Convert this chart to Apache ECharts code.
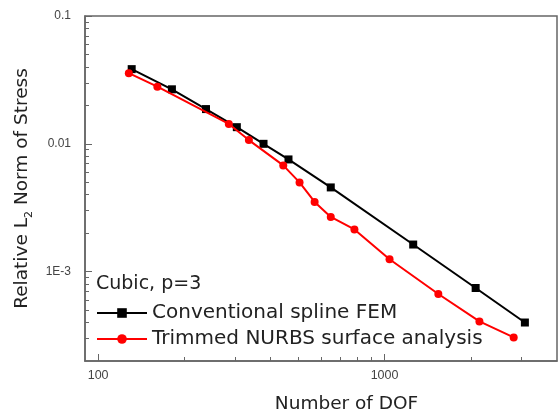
<!DOCTYPE html>
<html>
<head>
<meta charset="utf-8">
<script src="https://cdn.jsdelivr.net/npm/echarts@6/dist/echarts.min.js"></script>
<style>
  html, body { margin: 0; padding: 0; background: #fff; }
  #chart-container { width: 558px; height: 418px; }
</style>
</head>
<body>
<div id="chart-container"></div>
<script>
// conventional spline FEM (black squares)
const splineDof = [131, 181, 238, 305, 378, 462, 649, 1259, 2080, 3090];
const splineErr = [0.0384, 0.0267, 0.0187, 0.0135, 0.0100, 0.00755, 0.00456, 0.00163, 0.000745, 0.000400];

// trimmed NURBS surface analysis (red circles)
const nurbsDof = [128, 161, 286, 336, 443, 505, 570, 649, 785, 1041, 1541, 2144, 2824];
const nurbsErr = [0.0357, 0.0280, 0.0143, 0.0107, 0.00678, 0.00499, 0.00351, 0.00268, 0.00214, 0.00125, 0.000669, 0.000408, 0.000306];

const xMajor = [100, 1000];
const xMinor = [200, 300, 400, 500, 600, 700, 800, 900, 2000, 3000];
const yMajor = [0.001, 0.01, 0.1];
const yMinor = [0.0003, 0.0004, 0.0005, 0.0006, 0.0007, 0.0008, 0.0009,
  0.002, 0.003, 0.004, 0.005, 0.006, 0.007, 0.008, 0.009,
  0.02, 0.03, 0.04, 0.05, 0.06, 0.07, 0.08, 0.09];

const font = 'Liberation Sans, Arial, sans-serif';
const wideFont = 'DejaVu Sans, Verdana, sans-serif';
const axisGray = '#666';

function pairs(xs, ys) {
  return xs.map((x, i) => [x, ys[i]]);
}

function yLabel(v) {
  if (v < 0.005) return v.toExponential(0).toUpperCase().replace('+', '');
  return String(v);
}

const chart = echarts.init(document.getElementById('chart-container'));

const option = {
  backgroundColor: '#fff',
  animation: false,
  grid: {
    left: 85, top: 16, right: 1, bottom: 57, outerBoundsMode: 'none',
    show: true, borderColor: axisGray, borderWidth: 1.5
  },
  graphic: [{
    type: 'text', left: 96, top: 275,
    style: { text: 'Cubic, p=3', font: '19px ' + wideFont, fill: '#222' }
  }],
  legend: {
    orient: 'vertical', left: 96, top: 303, padding: 0,
    itemWidth: 50, itemHeight: 12, itemGap: 6,
    textStyle: { fontFamily: wideFont, fontSize: 20, color: '#222' },
    data: ['Conventional spline FEM', 'Trimmed NURBS surface analysis']
  },
  xAxis: [{
    type: 'log', min: 90, max: 4000,
    name: 'Number of DOF', nameLocation: 'middle', nameGap: 34,
    nameTextStyle: { fontFamily: wideFont, fontSize: 18.5, color: '#222', padding: [0, 0, 0, 51] },
    axisLine: { lineStyle: { color: axisGray, width: 1.5 } },
    axisTick: { inside: true, length: 7, lineStyle: { color: axisGray }, customValues: xMajor },
    axisLabel: { customValues: xMajor, formatter: v => String(v), fontFamily: font, fontSize: 12.5, color: '#444', margin: 8 },
    splitLine: { show: false }
  }, {
    type: 'log', min: 90, max: 4000, position: 'bottom',
    axisLine: { show: false },
    axisTick: { inside: true, length: 4, lineStyle: { color: axisGray }, customValues: xMinor },
    axisLabel: { show: false },
    splitLine: { show: false }
  }],
  yAxis: [{
    type: 'log', min: 0.0002, max: 0.1,
    name: '{a|Relative L}{s|2}{a| Norm of Stress}', nameLocation: 'middle', nameGap: 52,
    nameTextStyle: {
      rich: {
        a: { fontFamily: wideFont, fontSize: 18.5, color: '#222', verticalAlign: 'bottom', lineHeight: 22 },
        s: { fontFamily: wideFont, fontSize: 11, color: '#222', verticalAlign: 'bottom', lineHeight: 14, padding: [0, 0, -3, 0] }
      }
    },
    axisLine: { lineStyle: { color: axisGray, width: 1.5 } },
    axisTick: { inside: true, length: 7, lineStyle: { color: axisGray }, customValues: yMajor },
    axisLabel: { customValues: yMajor, formatter: yLabel, fontFamily: font, fontSize: 12, color: '#444', margin: 14 },
    splitLine: { show: false }
  }, {
    type: 'log', min: 0.0002, max: 0.1, position: 'left',
    axisLine: { show: false },
    axisTick: { inside: true, length: 4, lineStyle: { color: axisGray }, customValues: yMinor },
    axisLabel: { show: false },
    splitLine: { show: false }
  }],
  series: [{
    name: 'Conventional spline FEM', type: 'line',
    data: pairs(splineDof, splineErr),
    symbol: 'rect', symbolSize: 8,
    itemStyle: { color: '#000' },
    lineStyle: { color: '#000', width: 2 },
    z: 3
  }, {
    name: 'Trimmed NURBS surface analysis', type: 'line',
    data: pairs(nurbsDof, nurbsErr),
    symbol: 'circle', symbolSize: 8,
    itemStyle: { color: '#ff0000' },
    lineStyle: { color: '#ff0000', width: 2 },
    z: 4
  }]
};

chart.setOption(option);
</script>
</body>
</html>
